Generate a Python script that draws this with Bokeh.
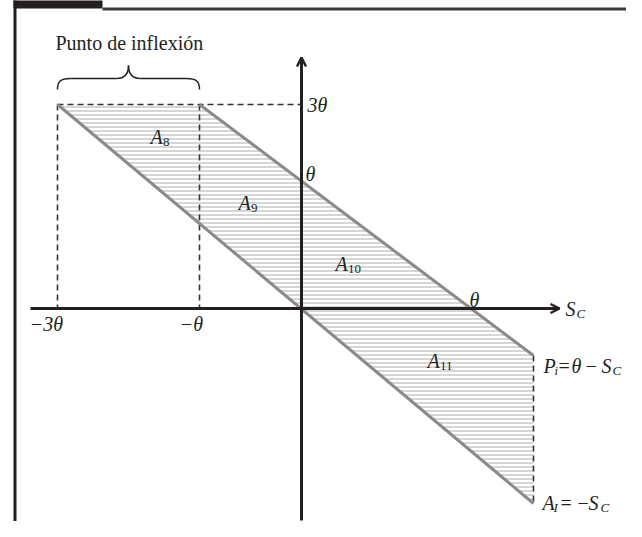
from bokeh.plotting import figure
from bokeh.models import Range1d, Arrow, OpenHead
from bokeh.core.properties import value
from bokeh.embed import file_html
from bokeh.resources import INLINE

# ---- schematic values (diagram units) ----
x_tick_labels = ["−3θ", "−θ", "θ"]
x_tick_values = [-2.44, -1.02, 1.68]
y_tick_labels = ["3θ", "θ"]
y_tick_values = [2.04, 1.27]

# boundary lines
upper_x = [-1.02, 2.32]          # P_i = θ − S_C
upper_y = [2.04, -0.47]
lower_x = [-2.44, 2.32]          # A_I = −S_C
lower_y = [2.04, -1.95]

region_x = [-2.44, -1.02, 2.32, 2.32]
region_y = [2.04, 2.04, -0.47, -1.95]

area_subscripts = ["8", "9", "10", "11"]
area_x = [-1.51, -0.63, 0.34, 1.26]
area_y = [1.72, 1.06, 0.45, -0.52]

SERIF = value("Liberation Serif")
INK = "#231f20"

p = figure(width=626, height=521, x_range=Range1d(-3.01, 3.25), y_range=Range1d(-2.13, 3.08),
           output_backend="svg", toolbar_location=None, min_border=0,
           x_axis_type=None, y_axis_type=None)
p.grid.visible = False
p.outline_line_color = None
p.background_fill_color = "white"

# frame (tab, top rule, left rule)
p.quad(left=[-2.88], right=[-1.99], top=[3.10], bottom=[3.00], fill_color=INK, line_color=None)
p.line([-1.99, 3.30], [2.995, 2.995], line_color="#3a3a3a", line_width=3)
p.line([-2.865, -2.865], [3.10, -2.20], line_color=INK, line_width=3)

# hatched region
p.patch(region_x, region_y, fill_color=None, line_color=None,
        hatch_pattern="horizontal_line", hatch_scale=4, hatch_weight=1.4,
        hatch_color="#c4c4c4")

# dashed guides
dash = dict(line_color="#333333", line_width=1.6, line_dash="6 4")
p.line([lower_x[0], 0], [region_y[0], region_y[0]], **dash)
p.line([lower_x[0], lower_x[0]], [region_y[0], 0], **dash)
p.line([upper_x[0], upper_x[0]], [region_y[0], 0], **dash)
p.line([upper_x[1], upper_x[1]], [upper_y[1], lower_y[1]], **dash)

# boundary lines
p.line(upper_x, upper_y, line_color="#8a8a8a", line_width=3)
p.line(lower_x, lower_y, line_color="#8a8a8a", line_width=3)

# axes
p.add_layout(Arrow(end=OpenHead(size=9, line_width=2.5, line_color=INK),
                   x_start=-2.71, y_start=0, x_end=2.58, y_end=0,
                   line_width=3, line_color=INK))
p.add_layout(Arrow(end=OpenHead(size=9, line_width=2.5, line_color=INK),
                   x_start=0, y_start=-2.12, x_end=0, y_end=2.51,
                   line_width=3, line_color=INK))

# brace over the inflection zone
x0, x1 = lower_x[0], upper_x[0]
xm = (x0 + x1) / 2
ye, yb, yt = 2.19, 2.30, 2.43
bz = dict(line_color=INK, line_width=1.5)
p.bezier(x0=[x0, xm - 0.12, x1, xm + 0.12], y0=[ye, yb, ye, yb],
         x1=[x0 + 0.13, xm, x1 - 0.13, xm], y1=[yb, yt, yb, yt],
         cx0=[x0, xm - 0.03, x1, xm + 0.03], cy0=[yb - 0.03, yb, yb - 0.03, yb],
         cx1=[x0 + 0.03, xm, x1 - 0.03, xm], cy1=[yb, yb + 0.05, yb, yb + 0.05], **bz)
p.line([x0 + 0.13, xm - 0.12], [yb, yb], **bz)
p.line([xm + 0.12, x1 - 0.13], [yb, yb], **bz)

def txt(x, y, s, size="20px", style="italic", align="left"):
    p.text(x=x, y=y, text=s, text_font=SERIF, text_font_style=style,
           text_font_size=size, text_baseline="middle", text_align=align,
           text_color=INK)

txt([-2.46], [2.66], ["Punto de inflexión"], style="normal")

# tick labels
txt([x_tick_values[0] - 0.11, x_tick_values[1] - 0.08], [-0.15, -0.15],
    x_tick_labels[:2], align="center")
txt([x_tick_values[2] + 0.05], [0.09], x_tick_labels[2:], align="center")
txt([0.06, 0.04], [y_tick_values[0], y_tick_values[1] + 0.08], y_tick_labels)

# axis name S_C
txt([2.64], [0.0], ["S"])
txt([2.75], [-0.05], ["C"], size="13px")

# P_i = θ − S_C
txt([2.42], [-0.57], ["P"])
txt([2.53], [-0.62], ["i"], size="13px")
txt([2.57, 2.84], [-0.57, -0.57], ["=", "−"], style="normal")
txt([2.70, 3.00], [-0.57, -0.57], ["θ", "S"])
txt([3.11], [-0.62], ["C"], size="13px")

# A_I = −S_C
txt([2.41], [-1.94], ["A"])
txt([2.52], [-1.99], ["I"], size="13px")
txt([2.59, 2.76], [-1.94, -1.94], ["=", "−"], style="normal")
txt([2.87], [-1.94], ["S"])
txt([2.99], [-1.99], ["C"], size="13px")

# area labels A_8..A_11
txt(area_x, area_y, ["A"] * len(area_x), size="20px")
txt([ax + 0.125 for ax in area_x], [ay - 0.05 for ay in area_y], area_subscripts,
    size="13px", style="normal")

open("out.html", "w").write(file_html(p, INLINE))
